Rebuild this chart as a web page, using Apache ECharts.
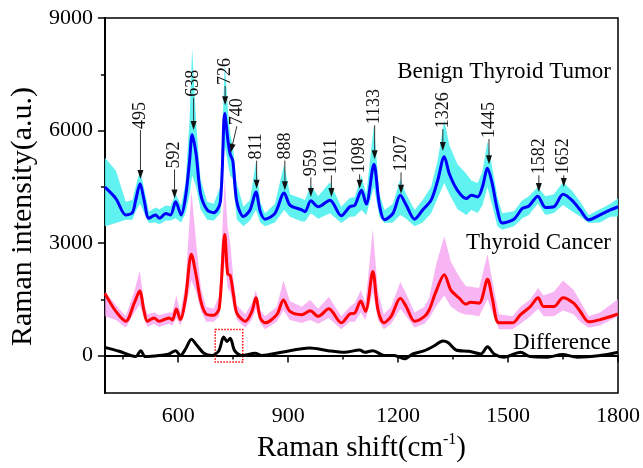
<!DOCTYPE html>
<html>
<head>
<meta charset="utf-8">
<script src="https://cdn.jsdelivr.net/npm/echarts@6/dist/echarts.min.js"></script>
<style>html,body{margin:0;padding:0;background:#fff}#c{width:643px;height:468px}</style>
</head>
<body>
<div id="c"></div>
<script>
// ---- data ----
const xBenign = [400,430,457,475,484,496,507,520,538,549,566,579,593,608,620,631,638,649,661,679,697,715,727,736,742,749,760,778,796,812,824,837,864,889,905,937,946,962,982,1014,1045,1068,1082,1100,1113,1134,1149,1163,1186,1206,1222,1245,1267,1290,1308,1326,1340,1362,1386,1400,1417,1430,1444,1457,1471,1484,1516,1539,1557,1581,1602,1625,1650,1674,1697,1720,1751,1779,1800];
const benign = [4490,4186,3750,3810,4143,4580,4143,3660,3750,3660,3790,3750,4100,3750,4230,5190,5890,5363,4316,3882,3811,4099,6454,5713,5363,5190,4099,3707,3882,4361,3838,3636,3793,4335,4013,3882,3838,4125,3968,4143,3725,3968,4013,4405,4039,5101,4013,3620,3793,4274,4013,3636,3882,4143,4667,5302,4840,4405,4186,4274,4230,4492,4997,4578,3882,3532,3636,3924,3987,4248,3950,3968,4300,4143,3882,3620,3751,3882,3968];
const benignUpper = [5276,4936,4100,4150,4500,4970,4450,3838,3950,3900,4000,3980,4316,4000,4600,6300,8200,6200,4700,4100,4050,4500,7800,6500,5900,5600,4578,3968,4150,5145,4100,3793,4050,5100,4300,4186,4150,4540,4250,4622,3968,4200,4230,4800,4300,6140,4300,3882,4050,4710,4300,3882,4150,4492,5200,6280,5600,5100,4850,4667,4600,4900,5713,5000,4230,3793,3850,4143,4250,4492,4250,4300,4622,4400,4100,3750,3900,4050,4186];
const benignLower = [3445,3532,3620,3620,3850,4055,3800,3532,3550,3500,3600,3600,3662,3550,3800,4300,4800,4500,3900,3620,3600,3800,5600,5100,4800,4700,3620,3445,3600,3882,3550,3445,3550,3882,3700,3576,3576,3793,3650,3793,3532,3700,3707,3882,3750,4500,3700,3532,3550,3750,3650,3445,3550,3793,4200,4600,4300,3900,3750,3882,3800,4000,4492,4000,3445,3358,3450,3662,3750,4055,3750,3800,4013,3850,3707,3532,3550,3700,3707];

const xCancer = [400,430,457,480,495,507,516,534,548,575,584,595,606,620,636,649,662,676,697,712,727,735,742,751,760,783,801,812,824,837,869,887,905,937,960,982,1011,1045,1068,1082,1098,1111,1131,1145,1161,1181,1206,1222,1245,1272,1285,1303,1326,1344,1367,1385,1398,1421,1444,1457,1475,1512,1534,1561,1582,1597,1625,1650,1679,1697,1720,1751,1800];
const cancer = [1659,1177,916,1397,1719,1177,916,1004,916,1004,950,1240,960,1528,2705,2137,1440,1109,1073,1266,3228,2182,2137,1614,1135,916,1177,1543,1004,873,1091,1483,1177,1091,1195,1046,1248,873,1109,1135,1457,1177,2242,1222,873,1046,1528,1308,916,1046,1222,1700,2155,1745,1528,1371,1423,1397,2033,1528,873,873,1091,1308,1543,1308,1308,1543,1397,1177,899,960,1109];
const cancerUpper = [1700,1350,1050,1700,2270,1400,1100,1150,1080,1150,1150,1610,1150,1900,4400,3000,1800,1300,1250,1600,4750,3400,3000,2000,1350,1100,1400,1745,1200,1050,1300,2000,1450,1300,1480,1250,1570,1050,1300,1400,1745,1400,3360,1700,1100,1300,1960,1650,1150,1300,1550,2400,3180,2500,2100,1850,1836,1800,2710,2000,1100,1050,1300,1500,1800,1600,1700,2000,1750,1450,1050,1150,1500];
const cancerLower = [1050,950,743,1150,1350,1000,760,850,760,850,800,1000,800,1250,2000,1700,1200,900,900,1050,2500,1800,1700,1300,950,743,950,1250,850,700,900,1200,950,870,950,850,1000,700,900,900,1150,950,1700,950,700,850,1250,1050,750,850,1000,1300,1600,1300,1150,1091,1091,1050,1500,1150,700,700,850,1050,1250,1050,1050,1200,1100,900,743,800,1050];

const xDiff = [400,439,484,498,510,548,575,593,606,620,636,652,670,692,711,724,733,742,754,774,810,828,882,959,1009,1054,1095,1109,1131,1163,1190,1217,1240,1272,1299,1322,1336,1358,1394,1426,1444,1462,1489,1534,1561,1607,1648,1689,1751,1800];
const diff = [220,115,-26,131,-26,0,44,131,0,175,437,262,63,0,131,497,376,463,131,0,63,0,89,201,131,89,149,89,131,0,0,-87,44,131,262,392,350,149,115,44,235,44,-42,89,-26,-42,26,-42,0,89];

// peak annotations (label, label x, arrow tip x, intensity at arrow tip, intensity at label base)
const annoLabels = ['495','592','638','726','740','811','888','959','1011','1098','1133','1207','1326','1445','1582','1652'];
const annoLabelX = [497,590,642,728,760,814,891,962,1018,1095,1136,1208,1322,1448,1584,1652];
const annoTipX   = [497,590,642,728,743,814,891,962,1018,1095,1136,1208,1322,1448,1584,1652];
const annoTip    = [4709,4186,6017,6671,5407,4447,4405,4230,4230,4447,5232,4316,5452,5101,4361,4492];
const annoTop    = [6017,4963,6872,7186,6114,5198,5198,4753,4806,4832,6140,4884,6035,5774,4806,4806];

// axis ticks
const xMajorTicks = [600,900,1200,1500,1800];
const xMinorTicks = [450,750,1050,1350,1650];
const yMajorTicks = [0,3000,6000,9000];
const yMinorTicks = [1500,4500,7500];

// dotted highlight box on difference spectrum [x1,y1],[x2,y2]
const boxCorners = [[701,698],[776,-173]];

// ---- chart ----
const FONT = '"Liberation Serif","Times New Roman",serif';
const pairs = (xs, ys) => xs.map((x, i) => [x, ys[i]]);

const chart = echarts.init(document.getElementById('c'), null, {renderer: 'canvas'});

function bandSeries(xs, up, lo, color, opacity, z) {
  return {
    type: 'custom', clip: true, silent: true, z: z,
    data: [[xs[0], lo[0]]],
    renderItem: function (params, api) {
      const pts = [];
      for (let i = 0; i < xs.length; i++) pts.push(api.coord([xs[i], up[i]]));
      for (let i = xs.length - 1; i >= 0; i--) pts.push(api.coord([xs[i], lo[i]]));
      return {type: 'polygon', shape: {points: pts}, style: {fill: color, opacity: opacity}};
    }
  };
}

const tickLbl = {color: '#000', fontFamily: FONT, fontSize: 22, formatter: v => String(v)};
const option = {
  animation: false,
  grid: {left: 102, right: 25, top: 18, bottom: 69, show: true, borderColor: '#000', borderWidth: 1.5, backgroundColor: 'transparent'},
  xAxis: [
    {type: 'value', min: 400, max: 1800,
     axisLine: {lineStyle: {color: '#000', width: 2}},
     axisTick: {customValues: xMajorTicks, length: 7, lineStyle: {color: '#000', width: 1.5}},
     axisLabel: Object.assign({customValues: xMajorTicks, margin: 12}, tickLbl),
     splitLine: {show: false},
     name: '{a|Raman shift(cm}{s|-1}{a|)}',
     nameLocation: 'middle', nameGap: 37,
     nameTextStyle: {rich: {
       a: {fontFamily: FONT, fontSize: 29, color: '#000', lineHeight: 33},
       s: {fontFamily: FONT, fontSize: 16, color: '#000', verticalAlign: 'top', lineHeight: 16}
     }}},
    {type: 'value', min: 400, max: 1800, position: 'bottom',
     axisLine: {show: false},
     axisTick: {customValues: xMinorTicks, length: 4, lineStyle: {color: '#000', width: 1.5}},
     axisLabel: {show: false}, splitLine: {show: false}}
  ],
  yAxis: [
    {type: 'value', min: -1000, max: 9000,
     axisLine: {show: true, lineStyle: {color: '#000', width: 2}},
     axisTick: {show: true, customValues: yMajorTicks, length: 7, lineStyle: {color: '#000', width: 1.5}},
     axisLabel: Object.assign({customValues: yMajorTicks, margin: 12}, tickLbl),
     splitLine: {show: false},
     name: 'Raman intensity(a.u.)', nameLocation: 'middle', nameGap: 52,
     nameTextStyle: {fontFamily: FONT, fontSize: 30, color: '#000', padding: [0, 22, 0, 0]}},
    {type: 'value', min: -1000, max: 9000, position: 'left',
     axisLine: {show: false},
     axisTick: {show: true, customValues: yMinorTicks, length: 4, lineStyle: {color: '#000', width: 1.5}},
     axisLabel: {show: false}, splitLine: {show: false}}
  ],
  series: [
    bandSeries(xBenign, benignUpper, benignLower, '#4ff0f0', 0.9, 1),
    bandSeries(xCancer, cancerUpper, cancerLower, '#f59cf0', 0.75, 2),
    {type: 'line', name: 'Difference', data: pairs(xDiff, diff), symbol: 'none', smooth: 0.3,
     lineStyle: {color: '#000', width: 3}, z: 3,
     markArea: {silent: true,
       itemStyle: {color: 'rgba(0,0,0,0)', borderColor: '#ff0000', borderWidth: 1.5, borderType: 'dotted'},
       data: [[{coord: boxCorners[0]}, {coord: boxCorners[1]}]]}},
    {type: 'line', name: 'Thyroid Cancer', data: pairs(xCancer, cancer), symbol: 'none', smooth: 0.3,
     lineStyle: {color: '#ff0000', width: 3}, z: 4},
    {type: 'line', name: 'Benign Thyroid Tumor', data: pairs(xBenign, benign), symbol: 'none', smooth: 0.3,
     lineStyle: {color: '#0000ff', width: 3}, z: 5},
    {type: 'custom', clip: false, z: 6, silent: true,
     data: annoLabels.map((t, i) => [annoTipX[i], annoTip[i]]),
     renderItem: function (params, api) {
       const i = params.dataIndex;
       const tip = api.coord([annoTipX[i], annoTip[i]]);
       const top = api.coord([annoLabelX[i], annoTop[i]]);
       const dx = tip[0] - top[0], dy = tip[1] - top[1];
       const len = Math.hypot(dx, dy) || 1;
       const ux = dx / len, uy = dy / len;
       const ah = 9, aw = 3;
       const base = [tip[0] - ux * ah, tip[1] - uy * ah];
       return {type: 'group', children: [
         {type: 'line', shape: {x1: top[0], y1: top[1], x2: base[0], y2: base[1]}, style: {stroke: '#333', lineWidth: 1}},
         {type: 'polygon', shape: {points: [tip, [base[0] - uy * aw, base[1] + ux * aw], [base[0] + uy * aw, base[1] - ux * aw]]}, style: {fill: '#111'}},
         {type: 'text', x: top[0], y: top[1] - 1, rotation: Math.PI / 2,
          style: {text: annoLabels[i], align: 'left', verticalAlign: 'middle', fontFamily: FONT, fontSize: 18, fill: '#111'}}
       ]};
     }}
  ],
  graphic: [
    {type: 'text', x: 611, y: 72, style: {text: 'Benign Thyroid Tumor', align: 'right', verticalAlign: 'middle', fontFamily: FONT, fontSize: 23, fill: '#000'}},
    {type: 'text', x: 611, y: 243, style: {text: 'Thyroid Cancer', align: 'right', verticalAlign: 'middle', fontFamily: FONT, fontSize: 23, fill: '#000'}},
    {type: 'text', x: 611, y: 343, style: {text: 'Difference', align: 'right', verticalAlign: 'middle', fontFamily: FONT, fontSize: 23, fill: '#000'}}
  ]
};
chart.setOption(option);
</script>
</body>
</html>
